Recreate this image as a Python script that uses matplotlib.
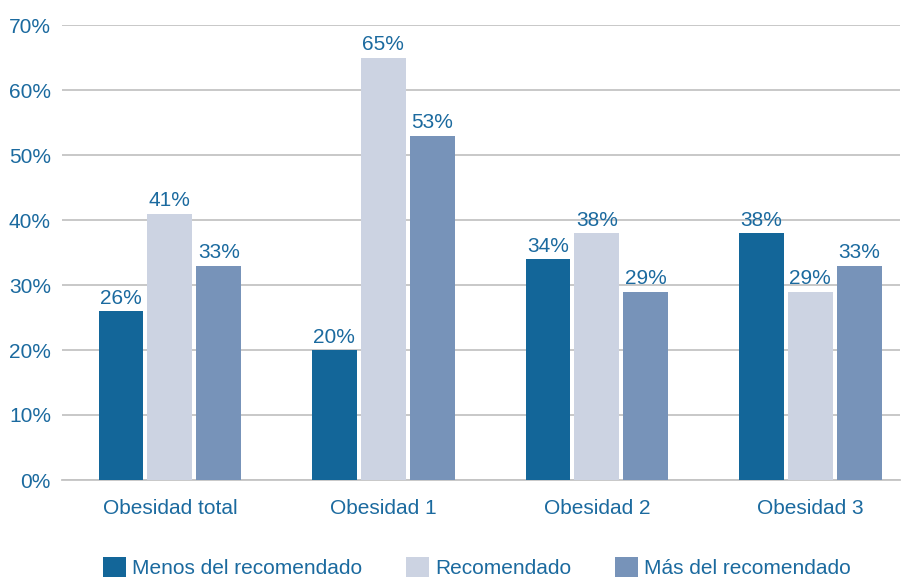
import matplotlib.pyplot as plt
import numpy as np

plt.rcParams['font.family'] = ['Liberation Sans', 'DejaVu Sans']

categories = ['Obesidad total', 'Obesidad 1', 'Obesidad 2', 'Obesidad 3']
series = ['Menos del recomendado', 'Recomendado', 'Más del recomendado']
menos = [26, 20, 34, 38]
recomendado = [41, 65, 38, 29]
mas = [33, 53, 29, 33]
yticks = [0, 10, 20, 30, 40, 50, 60, 70]

colors = ['#136699', '#CCD3E2', '#7793B9']
txt = '#1B6A9F'
fs = 15

fig = plt.figure(figsize=(9.15, 5.78), dpi=100)
ax = fig.add_axes([62 / 915, 98 / 578, 838 / 915, 455 / 578])

x = np.arange(len(categories))
w = 0.21
step = 0.229
for i, (vals, c) in enumerate(zip([menos, recomendado, mas], colors)):
    pos = x + (i - 1) * step
    ax.bar(pos, vals, w, color=c, label=series[i], zorder=3)
    for p, v in zip(pos, vals):
        ax.text(p, v + 0.5, f'{v}%', ha='center', va='bottom', color=txt, fontsize=fs)

ax.set_ylim(0, 70)
ax.set_xlim(-0.505, 3.42)
ax.set_yticks(yticks)
ax.set_yticklabels([f'{t}%' for t in yticks])
ax.set_xticks(x)
ax.set_xticklabels(categories)
ax.tick_params(axis='both', length=0, labelcolor=txt, labelsize=fs)
ax.tick_params(axis='x', pad=14)
ax.tick_params(axis='y', pad=8)
ax.grid(axis='y', color='#C4C4C4', linewidth=1.3, zorder=0)
for s in ['top', 'right', 'left']:
    ax.spines[s].set_visible(False)
ax.spines['bottom'].set_color('#C4C4C4')
ax.spines['bottom'].set_linewidth(1.3)

leg = fig.legend(loc='center', bbox_to_anchor=(0.521, 0.018), ncol=3, frameon=False,
                 fontsize=fs, handlelength=1.1, handleheight=1.05, handletextpad=0.3,
                 columnspacing=2.1, borderpad=0)
for t in leg.get_texts():
    t.set_color(txt)

fig.savefig('out.png', dpi=100)
